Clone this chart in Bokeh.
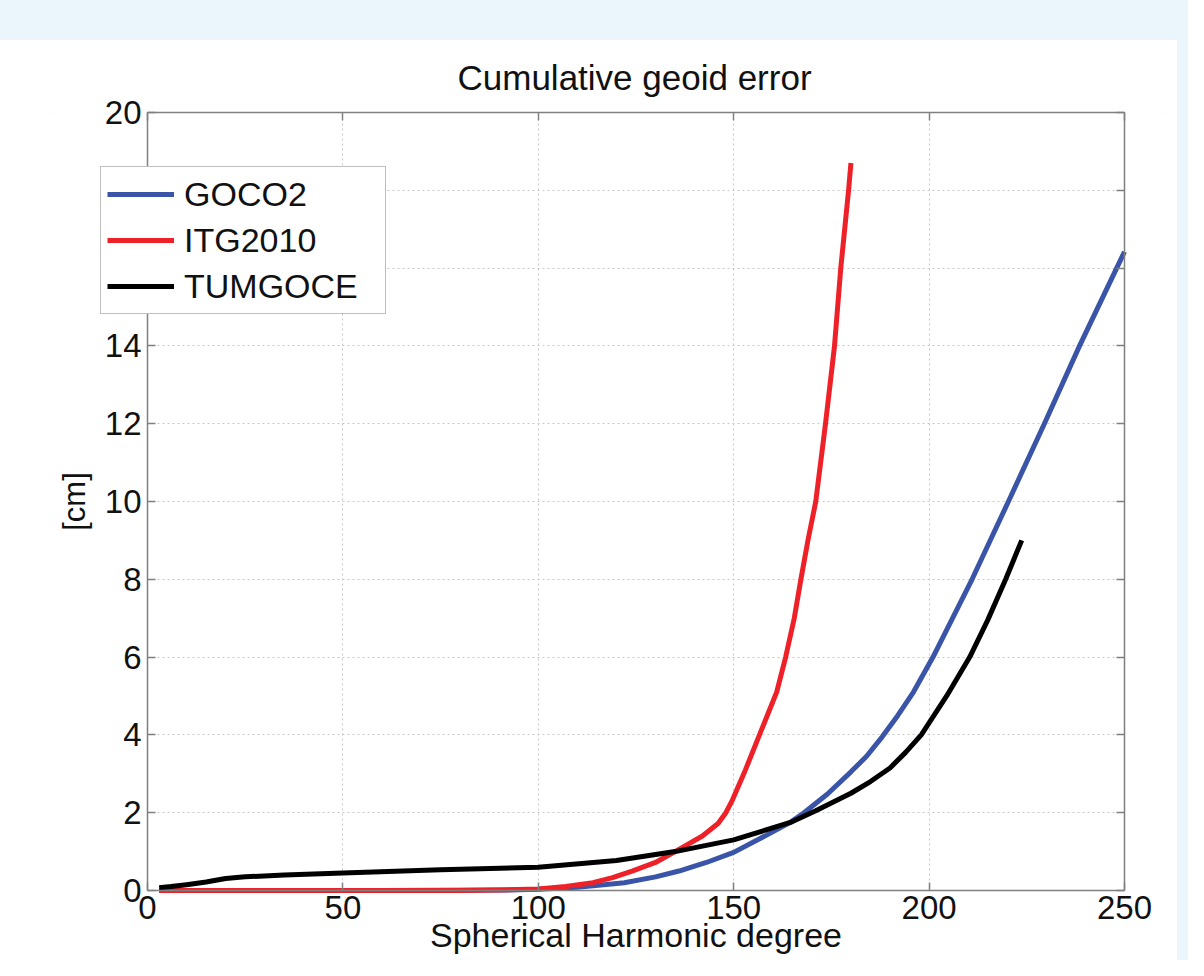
from bokeh.plotting import figure
from bokeh.models import LinearAxis, Legend, LegendItem, FixedTicker, Range1d, BoxAnnotation
from bokeh.embed import file_html
from bokeh.resources import INLINE

# ---- data ----
goco2_deg = [3, 30, 60, 90, 100, 110, 122, 130, 136, 143, 150, 157, 164.5, 168, 174, 180, 184, 188, 192, 196, 201, 211, 220.3, 229.5, 238.5, 248, 250]
goco2_val = [0, 0, 0, 0.01, 0.03, 0.08, 0.2, 0.35, 0.5, 0.72, 0.98, 1.35, 1.75, 2.0, 2.48, 3.05, 3.45, 3.95, 4.5, 5.1, 6.0, 8.0, 10.0, 12.0, 14.0, 16.0, 16.42]

itg_deg = [3, 40, 80, 90, 100, 107, 114, 119, 124, 130, 135, 142, 146, 148, 149.7, 153, 156.6, 158.8, 161, 163.3, 165.5, 167.2, 169, 171, 173.5, 175.8, 177.4, 179.4, 180]
itg_val = [0, 0, 0, 0.01, 0.04, 0.1, 0.2, 0.33, 0.5, 0.72, 1.0, 1.4, 1.72, 2.0, 2.33, 3.1, 4.0, 4.55, 5.1, 6.0, 7.0, 8.0, 9.0, 10.0, 12.0, 14.0, 16.0, 18.0, 18.7]

tum_deg = [3, 6, 10, 15, 20, 25, 35, 50, 75, 100, 120, 135, 150, 164.5, 171, 180, 185, 190, 194, 198, 204.5, 210.4, 215, 219.6, 223.7]
tum_val = [0.07, 0.1, 0.15, 0.22, 0.31, 0.35, 0.4, 0.45, 0.53, 0.6, 0.77, 1.0, 1.3, 1.75, 2.05, 2.5, 2.8, 3.15, 3.55, 4.0, 5.0, 6.0, 6.95, 8.0, 9.0]

series_names = ["GOCO2", "ITG2010", "TUMGOCE"]
series_colors = ["#3a55a8", "#ee2128", "#000000"]

x_ticks = [0, 50, 100, 150, 200, 250]
y_ticks = [0, 2, 4, 6, 8, 10, 12, 14, 16, 18, 20]
X_MIN, X_MAX = 0, 250
Y_MIN, Y_MAX = 0, 20

FONT = "Liberation Sans"
GRAY = "#808080"
BG = "#ebf6fc"
# the frame is a little larger than the data box so that the legend, tick labels and
# axis titles (drawn by axes fixed at the data box edges) can sit inside it
X_START = -24.31
X_END = 260.24
Y_START = -1.80
Y_END = 20.411

p = figure(width=1188, height=960, output_backend="svg", toolbar_location=None,
           x_range=Range1d(X_START, X_END), y_range=Range1d(Y_START, Y_END),
           min_border_left=52, min_border_right=24, min_border_top=96, min_border_bottom=0,
           title="Cumulative geoid error", x_axis_label="Spherical Harmonic degree",
           y_axis_label="[cm]",
           styles={"background": "linear-gradient(to bottom, %s 0px, %s 40px, transparent 40px), "
                                 "linear-gradient(to right, #ffffff 0px, #ffffff 1177px, %s 1177px)" % (BG, BG, BG)})
p.border_fill_color = None
p.background_fill_color = "white"
p.outline_line_color = None

p.title.align = "left"
p.title.offset = 405
p.title.text_font = FONT
p.title.text_font_style = "normal"
p.title.text_font_size = "35px"
p.title.text_color = "#111111"
p.title.standoff = 0

def style_axis(ax, ticks, show_labels):
    ax.ticker = FixedTicker(ticks=ticks)
    ax.axis_line_color = GRAY
    ax.axis_line_width = 1.5
    ax.major_tick_line_color = GRAY
    ax.major_tick_line_width = 1.5
    ax.major_tick_in = 8
    ax.major_tick_out = 0
    ax.minor_tick_line_color = None
    ax.major_label_text_font = FONT
    ax.major_label_text_color = "#111111"
    if show_labels:
        ax.major_label_text_font_size = "33px"
    else:
        ax.major_label_text_font_size = "0px"
        ax.major_label_text_color = None
    ax.axis_label_text_font = FONT
    ax.axis_label_text_font_style = "normal"
    ax.axis_label_text_color = "#111111"

xax = p.xaxis[0]
yax = p.yaxis[0]
style_axis(xax, x_ticks, True)
style_axis(yax, y_ticks, True)
xax.fixed_location = Y_MIN
xax.bounds = (X_MIN, X_MAX)
xax.major_label_standoff = 6
xax.axis_label_text_font_size = "34px"
xax.axis_label_standoff = -7
yax.fixed_location = X_MIN
yax.bounds = (Y_MIN, Y_MAX)
yax.major_label_standoff = 6
yax.axis_label_text_font_size = "31px"
yax.axis_label_standoff = 10

top_ax = LinearAxis(bounds=(X_MIN, X_MAX), fixed_location=Y_MAX)
style_axis(top_ax, x_ticks, False)
right_ax = LinearAxis(bounds=(Y_MIN, Y_MAX), fixed_location=X_MAX)
style_axis(right_ax, y_ticks, False)
p.add_layout(top_ax, "above")
p.add_layout(right_ax, "right")

p.xgrid.ticker = FixedTicker(ticks=x_ticks)
p.ygrid.ticker = FixedTicker(ticks=y_ticks)
for g in (p.xgrid[0], p.ygrid[0]):
    g.grid_line_color = "#c8c8c8"
    g.grid_line_dash = "2 3"
    g.grid_line_width = 1

# white masks over the parts of the frame outside the data box (hide grid lines there)
for l, r, b, t in [(X_START, X_MIN, Y_START, Y_END),
                   (X_MAX, X_END, Y_START, Y_END),
                   (X_START, X_END, Y_START, Y_MIN),
                   (X_START, X_END, Y_MAX, Y_END)]:
    p.add_layout(BoxAnnotation(left=l, right=r, bottom=b, top=t, fill_color="white",
                               fill_alpha=1.0, line_color=None, level="underlay"))

r1 = p.line(goco2_deg, goco2_val, line_color=series_colors[0], line_width=5, line_join="round")
r2 = p.line(itg_deg, itg_val, line_color=series_colors[1], line_width=5, line_join="round")
r3 = p.line(tum_deg, tum_val, line_color=series_colors[2], line_width=5, line_join="round")

legend = Legend(items=[LegendItem(label=series_names[0], renderers=[r1]),
                       LegendItem(label=series_names[1], renderers=[r2]),
                       LegendItem(label=series_names[2], renderers=[r3])],
                location=(48, 646))
legend.padding = 6
legend.margin = 0
legend.spacing = 4
legend.glyph_width = 67
legend.glyph_height = 42
legend.label_height = 42
legend.label_width = 195
legend.label_standoff = 10
legend.label_text_font = FONT
legend.label_text_font_size = "34px"
legend.label_text_color = "#111111"
legend.border_line_color = GRAY
legend.border_line_width = 1.5
legend.background_fill_color = "white"
legend.background_fill_alpha = 1.0
p.add_layout(legend)

open("out.html", "w").write(file_html(p, INLINE))
